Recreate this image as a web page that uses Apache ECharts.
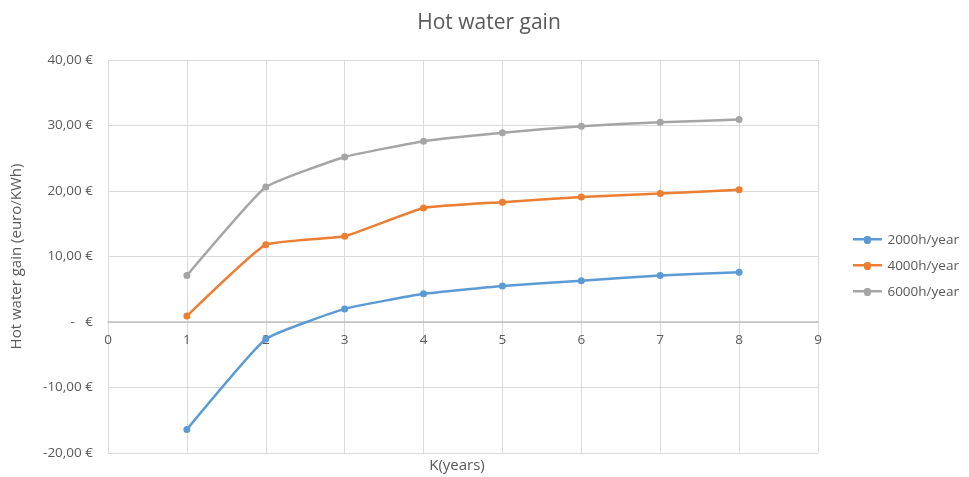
<!DOCTYPE html>
<html>
<head>
<meta charset="utf-8">
<script src="https://cdn.jsdelivr.net/npm/echarts@6/dist/echarts.min.js"></script>
<style>
  html, body { margin: 0; padding: 0; background: #fff; }
  #chart { width: 969px; height: 477px; }
</style>
</head>
<body>
<div id="chart"></div>
<script>
// Years of operation (K)
const years = [1, 2, 3, 4, 5, 6, 7, 8];

// Hot water gain per operating regime (euro/KWh)
const gain2000 = [-16.4, -2.6, 2.0, 4.3, 5.5, 6.3, 7.1, 7.6];
const gain4000 = [0.9, 11.8, 13.1, 17.4, 18.3, 19.1, 19.6, 20.2];
const gain6000 = [7.1, 20.6, 25.2, 27.6, 28.9, 29.9, 30.5, 30.9];

const seriesNames = ['2000h/year', '4000h/year', '6000h/year'];
const seriesColors = ['#5b9bd5', '#ed7d31', '#a5a5a5'];

const FONT = '"Open Sans", "Liberation Sans", sans-serif';
const TEXT = '#595959';

function euro(v) {
  if (v === 0) return '-   €';
  return v.toFixed(2).replace('.', ',') + ' €';
}

function pairs(values) {
  return years.map((x, i) => [x, values[i]]);
}

const chart = echarts.init(document.getElementById('chart'));
chart.setOption({
  animation: false,
  backgroundColor: '#fff',
  title: {
    text: 'Hot water gain',
    left: 484,
    top: 8,
    textAlign: 'center',
    textStyle: { fontFamily: FONT, fontSize: 21, fontWeight: 'normal', color: TEXT }
  },
  legend: {
    orient: 'vertical',
    left: 848,
    top: 228,
    itemGap: 12,
    itemWidth: 36,
    itemHeight: 8,
    textStyle: { fontFamily: FONT, fontSize: 13.5, color: TEXT, padding: [0, 0, 0, -3] },
    data: seriesNames.map(n => ({ name: n, icon: 'path://M0,3.2H7.5A2.2,2.2 0 0 1 10,1.8A2.2,2.2 0 0 1 12.5,3.2H20V4.8H12.5A2.2,2.2 0 0 1 7.5,4.8H0Z' }))
  },
  grid: { left: 108, right: 151, top: 60, bottom: 24, containLabel: false, outerBoundsMode: 'none' },
  graphic: [{
    type: 'text',
    x: 457,
    y: 466,
    style: { text: 'K(years)', font: '15px ' + FONT, fill: TEXT, align: 'center', verticalAlign: 'middle' }
  }],
  xAxis: {
    type: 'value',
    min: 0,
    max: 9,
    interval: 1,
    axisLine: { show: true, onZero: false, lineStyle: { color: '#bfbfbf', width: 1.5 } },
    axisTick: { show: false },
    axisLabel: { fontFamily: FONT, fontSize: 13.5, color: TEXT, margin: 11 },
    splitLine: { show: true, lineStyle: { color: '#d9d9d9', width: 1 } }
  },
  yAxis: {
    type: 'value',
    min: -20,
    max: 40,
    interval: 10,
    name: 'Hot water gain (euro/KWh)',
    nameLocation: 'middle',
    nameGap: 84,
    nameRotate: 90,
    nameTextStyle: { fontFamily: FONT, fontSize: 15, color: TEXT },
    axisLine: { show: false },
    axisTick: { show: false },
    axisLabel: { fontFamily: FONT, fontSize: 13.5, color: TEXT, margin: 15, formatter: euro },
    splitLine: { show: true, lineStyle: { color: '#d9d9d9', width: 1 } }
  },
  series: [gain2000, gain4000, gain6000].map((vals, i) => ({
    name: seriesNames[i],
    type: 'line',
    data: pairs(vals),
    smooth: 0.12,
    symbol: 'circle',
    symbolSize: 7,
    color: seriesColors[i],
    lineStyle: { width: 2.5, color: seriesColors[i] },
    itemStyle: { color: seriesColors[i] }
  }))
});

// Lift the x axis (line and labels) up to the y = 0 crossing
const bottomPx = chart.convertToPixel({ yAxisIndex: 0 }, -20);
const zeroPx = chart.convertToPixel({ yAxisIndex: 0 }, 0);
chart.setOption({ xAxis: { offset: zeroPx - bottomPx } });
</script>
</body>
</html>
